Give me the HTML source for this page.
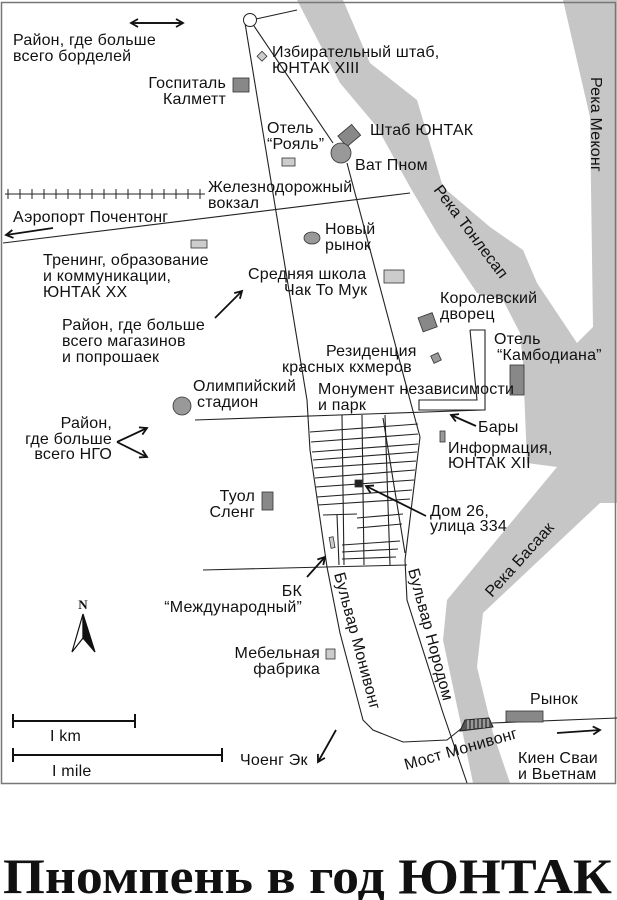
<!DOCTYPE html>
<html><head><meta charset="utf-8"><style>
html,body{margin:0;padding:0;background:#fff;}
svg{display:block;}
text{font-family:"Liberation Sans","DejaVu Sans",sans-serif;font-size:16px;letter-spacing:0.2px;fill:#111;}
</style></head><body>
<svg width="617" height="900" viewBox="0 0 617 900" xmlns="http://www.w3.org/2000/svg">
<defs>
<marker id="ah" markerWidth="10" markerHeight="10" refX="8" refY="5" orient="auto" markerUnits="userSpaceOnUse">
<path d="M1,1 L8,5 L1,9" fill="none" stroke="#111" stroke-width="1.8"/>
</marker>
</defs>
<rect x="0" y="0" width="617" height="900" fill="#fff"/>
<polygon fill="#c6c6c6" points="297,0 343,0 370,63 417,100 443,187 490,227 523,250 537,283 577,343 593,327 590,117 563,0 617,0 617,503 600,503 483,613 477,667 493,733 510,783 473,783 460,720 443,640 447,600 557,467 527,463 523,363 520,333 503,300 477,293 437,233 410,187 377,127 340,83"/>
<rect x="1.5" y="2.5" width="614" height="781" fill="none" stroke="#777" stroke-width="1.5"/>
<g stroke="#222" stroke-width="1.1" fill="none">
<polyline points="245,23 307,400 310,450 327,567 340,633 363,720 373,730 403,742 447,740 462,728"/>
<line x1="492" y1="723" x2="617" y2="718"/>
<polyline points="347,163 410,400 420,437 405,560 407,600 443,713 467,783"/>
<line x1="252" y1="23" x2="333" y2="143"/>
<line x1="256" y1="19" x2="297" y2="10"/>
<line x1="3" y1="243" x2="410" y2="193"/>
<line x1="195" y1="420" x2="483" y2="410"/>
<line x1="203" y1="570" x2="407" y2="565"/>
<line x1="5" y1="194" x2="205" y2="194"/>
<line x1="342" y1="415" x2="344" y2="565"/>
<line x1="362" y1="415" x2="364" y2="565"/>
<line x1="385" y1="415" x2="390" y2="565"/>
<line x1="383" y1="418" x2="405" y2="553"/>
<line x1="337" y1="515" x2="339" y2="565"/>
<line x1="310" y1="432" x2="418" y2="424"/>
<line x1="311" y1="442" x2="418" y2="434"/>
<line x1="312" y1="452" x2="418" y2="444"/>
<line x1="313" y1="460" x2="417" y2="452"/>
<line x1="314" y1="468" x2="416" y2="461"/>
<line x1="315" y1="478" x2="415" y2="470"/>
<line x1="316" y1="487" x2="414" y2="480"/>
<line x1="317" y1="497" x2="412" y2="490"/>
<line x1="318" y1="505" x2="410" y2="499"/>
<line x1="323" y1="515" x2="357" y2="514"/>
<line x1="357" y1="518" x2="403" y2="514"/>
<line x1="357" y1="528" x2="402" y2="524"/>
<line x1="342" y1="545" x2="400" y2="541"/>
<line x1="342" y1="552" x2="398" y2="549"/>
<line x1="342" y1="559" x2="396" y2="557"/>
<polyline points="470,330 485,330 485,410 419,410 419,400 477,400 470,330"/>
</g>
<g stroke="#222" stroke-width="1">
<path d="M8,189v10M20,189v10M32,189v10M44,189v10M56,189v10M68,189v10M80,189v10M92,189v10M104,189v10M116,189v10M128,189v10M140,189v10M152,189v10M164,189v10M176,189v10M188,189v10M200,189v10"/>
</g>
<circle cx="250" cy="20" r="6.5" fill="#fff" stroke="#222"/>
<g stroke="#333" stroke-width="0.8">
<rect x="258" y="53" width="7" height="7" fill="#ccc" transform="rotate(45 262 57)"/>
<rect x="233" y="78" width="16" height="14" fill="#888"/>
<rect x="340" y="128" width="18" height="14" fill="#888" transform="rotate(-40 350 135)"/>
<circle cx="341" cy="153" r="10" fill="#999"/>
<rect x="282" y="158" width="13" height="8" fill="#ccc"/>
<ellipse cx="312" cy="238" rx="8" ry="6" fill="#999"/>
<rect x="384" y="270" width="20" height="13" fill="#ccc"/>
<rect x="191" y="240" width="16" height="8" fill="#ccc"/>
<rect x="420" y="315" width="15" height="15" fill="#888" transform="rotate(-20 427 322)"/>
<rect x="432" y="354" width="8" height="8" fill="#999" transform="rotate(-25 436 358)"/>
<rect x="510" y="365" width="14" height="30" fill="#888"/>
<circle cx="182" cy="406" r="9" fill="#999"/>
<rect x="262" y="492" width="11" height="18" fill="#888"/>
<rect x="440" y="431" width="5" height="11" fill="#999"/>
<rect x="330" y="537" width="4" height="11" fill="#ccc" transform="rotate(-10 332 542)"/>
<rect x="326" y="649" width="9" height="10" fill="#ccc"/>
<rect x="506" y="711" width="37" height="11" fill="#888"/>
<rect x="355" y="480" width="7" height="7" fill="#222"/>
</g>
<path d="M460,731 L465,720 L489,718 L493,727 Z" fill="#555" stroke="#222"/>
<g stroke="#fff" stroke-width="0.8"><path d="M468,720v9M472,720v9M476,719v9M480,719v9M484,719v9M488,719v8"/></g>
<g stroke="#111" stroke-width="1.8" fill="none">
<line x1="135" y1="23" x2="183" y2="23" marker-end="url(#ah)"/>
<line x1="183" y1="23" x2="131" y2="23" marker-end="url(#ah)"/>
<line x1="53" y1="228" x2="6" y2="235" marker-end="url(#ah)"/>
<line x1="215" y1="318" x2="242" y2="291" marker-end="url(#ah)"/>
<line x1="117" y1="442" x2="147" y2="428" marker-end="url(#ah)"/>
<line x1="117" y1="442" x2="147" y2="457" marker-end="url(#ah)"/>
<line x1="476" y1="426" x2="451" y2="415" marker-end="url(#ah)"/>
<line x1="426" y1="516" x2="366" y2="486" marker-end="url(#ah)"/>
<line x1="307" y1="577" x2="325" y2="557" marker-end="url(#ah)"/>
<line x1="336" y1="730" x2="318" y2="762" marker-end="url(#ah)"/>
<line x1="557" y1="733" x2="600" y2="730" marker-end="url(#ah)"/>
</g>
<g stroke="#111" stroke-width="2">
<line x1="13" y1="721" x2="135" y2="721"/><line x1="13" y1="714" x2="13" y2="728"/><line x1="135" y1="714" x2="135" y2="728"/>
<line x1="13" y1="755" x2="222" y2="755"/><line x1="13" y1="748" x2="13" y2="762"/><line x1="222" y1="748" x2="222" y2="762"/>
</g>
<text x="50" y="741">I km</text>
<text x="52" y="776">I mile</text>
<text x="83" y="609" text-anchor="middle" style="font-family:'Liberation Serif',serif;font-weight:bold;font-size:13px">N</text>
<path d="M83,614 L72,652 L83,638 Z" fill="#fff" stroke="#111" stroke-width="1.2"/>
<path d="M83,614 L95,652 L83,638 Z" fill="#111" stroke="#111" stroke-width="1.2"/>
<text x="13" y="45">Район, где больше</text>
<text x="13" y="61">всего борделей</text>
<text x="226" y="88" text-anchor="end">Госпиталь</text>
<text x="226" y="104" text-anchor="end">Калметт</text>
<text x="272" y="57">Избирательный штаб,</text>
<text x="272" y="73">ЮНТАК XIII</text>
<text x="267" y="133">Отель</text>
<text x="267" y="149">“Рояль”</text>
<text x="370" y="135">Штаб ЮНТАК</text>
<text x="355" y="170">Ват Пном</text>
<text x="208" y="192">Железнодорожный</text>
<text x="208" y="208">вокзал</text>
<text x="13" y="222">Аэропорт Почентонг</text>
<text x="325" y="234">Новый</text>
<text x="325" y="250">рынок</text>
<text x="43" y="265">Тренинг, образование</text>
<text x="43" y="281">и коммуникации,</text>
<text x="43" y="297">ЮНТАК XX</text>
<text x="248" y="279">Средняя школа</text>
<text x="284" y="295">Чак То Мук</text>
<text x="440" y="303">Королевский</text>
<text x="440" y="319">дворец</text>
<text x="62" y="330">Район, где больше</text>
<text x="62" y="346">всего магазинов</text>
<text x="62" y="362">и попрошаек</text>
<text x="494" y="344">Отель</text>
<text x="497" y="360">“Камбодиана”</text>
<text x="326" y="356">Резиденция</text>
<text x="282" y="372">красных кхмеров</text>
<text x="193" y="391">Олимпийский</text>
<text x="197" y="407">стадион</text>
<text x="318" y="394">Монумент независимости</text>
<text x="318" y="410">и парк</text>
<text x="478" y="432">Бары</text>
<text x="448" y="453">Информация,</text>
<text x="448" y="468">ЮНТАК XII</text>
<text x="112" y="428" text-anchor="end">Район,</text>
<text x="112" y="444" text-anchor="end">где больше</text>
<text x="112" y="459" text-anchor="end">всего НГО</text>
<text x="255" y="501" text-anchor="end">Туол</text>
<text x="255" y="517" text-anchor="end">Сленг</text>
<text x="430" y="516">Дом 26,</text>
<text x="430" y="531">улица 334</text>
<text x="302" y="596" text-anchor="end">БК</text>
<text x="302" y="612" text-anchor="end">“Международный”</text>
<text x="320" y="658" text-anchor="end">Мебельная</text>
<text x="320" y="674" text-anchor="end">фабрика</text>
<text x="240" y="765">Чоенг Эк</text>
<text x="530" y="704">Рынок</text>
<text x="518" y="763">Киен Сваи</text>
<text x="518" y="779">и Вьетнам</text>
<text transform="translate(334,574) rotate(75)">Бульвар Монивонг</text>
<text transform="translate(408,570) rotate(75)">Бульвар Нородом</text>
<text transform="translate(433,190) rotate(53)">Река Тонлесап</text>
<text transform="translate(591,77) rotate(90)">Река Меконг</text>
<text transform="translate(492,598) rotate(-48)">Река Басаак</text>
<text transform="translate(406,770) rotate(-16)">Мост Монивонг</text>
<text x="3" y="893" textLength="609" lengthAdjust="spacingAndGlyphs" style="font-family:'Liberation Serif','DejaVu Serif',serif;font-weight:bold;font-size:50px;letter-spacing:0">Пномпень в год ЮНТАК</text>
</svg>
</body></html>
